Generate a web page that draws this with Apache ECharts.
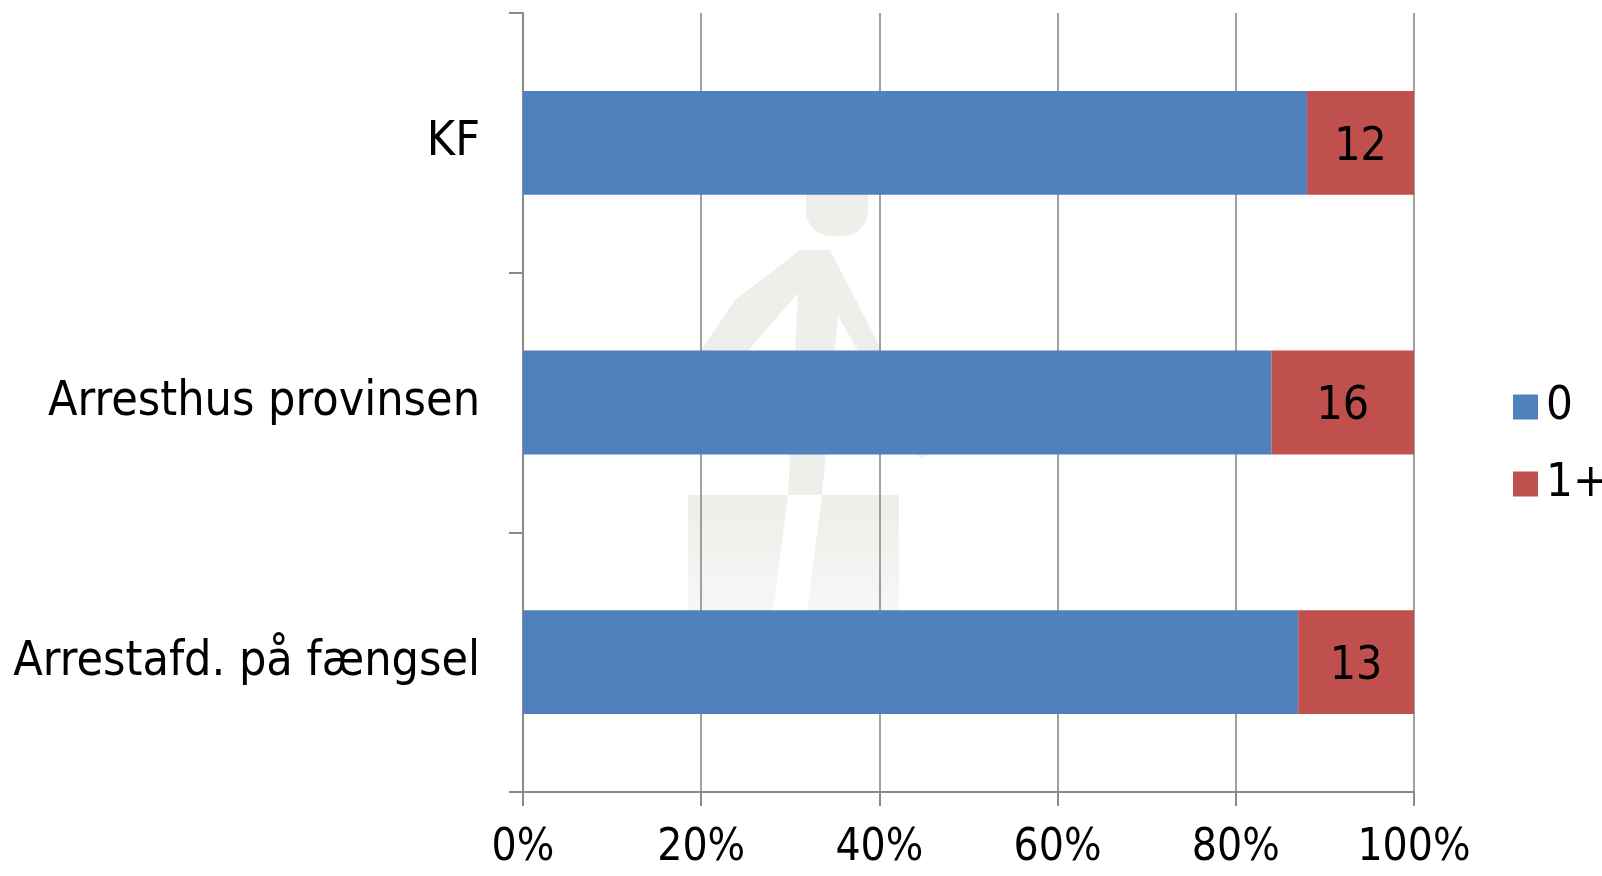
<!DOCTYPE html>
<html>
<head>
<meta charset="utf-8">
<style>html,body{margin:0;padding:0;background:#fff}#c{width:1602px;height:876px}</style>
<script src="https://cdn.jsdelivr.net/npm/echarts@6/dist/echarts.min.js"></script>
</head>
<body>
<div id="c"></div>
<script>
var categories = ['KF', 'Arresthus provinsen', 'Arrestafd. på fængsel'];
var seriesNames = ['0', '1+'];
var valuesZero = [88, 84, 87];
var valuesOnePlus = [12, 16, 13];
var xTickLabels = ['0%', '20%', '40%', '60%', '80%', '100%'];

var mainFont = '"DejaVu Sans Condensed", "Noto Sans", "DejaVu Sans", sans-serif';
var axisFont = '"Liberation Sans Narrow", "DejaVu Sans Condensed", sans-serif';
var gray = '#8a8a8a';

var chart = echarts.init(document.getElementById('c'), null, {renderer: 'canvas'});
chart.setOption({
  animation: false,
  backgroundColor: '#ffffff',
  graphic: [
    {type: 'rect', z: -10, silent: true, shape: {x: 806, y: 186, width: 62, height: 50, r: [8, 8, 25, 25]}, style: {fill: '#eeeeea'}},
    {type: 'polygon', z: -10, silent: true, shape: {points: [[800,250],[830,250],[880,347],[935,452],[920,458],[838,316],[822,495],[788,495],[798,293],[747,352],[700,352],[735,300]]}, style: {fill: '#eeeeea'}},
    {type: 'rect', z: -10, silent: true, shape: {x: 688, y: 495, width: 211, height: 118}, style: {fill: new echarts.graphic.LinearGradient(0, 0, 0, 1, [{offset: 0, color: '#ededea'}, {offset: 1, color: '#f7f7f5'}])}},
    {type: 'polygon', z: -9, silent: true, shape: {points: [[788,495],[822,495],[807,613],[773,613]]}, style: {fill: '#ffffff'}}
  ],
  grid: {left: 523, right: 188, top: 13, bottom: 84, containLabel: false},
  legend: {
    orient: 'vertical',
    left: 1508,
    top: 376,
    itemWidth: 25,
    itemHeight: 25,
    itemGap: 25,
    icon: 'rect',
    data: seriesNames,
    textStyle: {fontFamily: mainFont, fontSize: 47, color: '#000', lineHeight: 46, padding: [6, 0, 0, 3]}
  },
  xAxis: {
    type: 'value',
    min: 0,
    max: 100,
    interval: 20,
    axisLine: {show: true, lineStyle: {color: gray, width: 2}},
    axisTick: {show: true, length: 14, lineStyle: {color: gray, width: 2}},
    splitLine: {show: true, lineStyle: {color: gray, width: 1.6}},
    axisLabel: {
      margin: 35,
      fontFamily: axisFont,
      fontSize: 44,
      color: '#000',
      formatter: function (v) { return xTickLabels[Math.round(v / 20)]; }
    }
  },
  yAxis: {
    type: 'category',
    inverse: true,
    data: categories,
    axisLine: {show: true, lineStyle: {color: gray, width: 2}},
    axisTick: {show: true, length: 14, lineStyle: {color: gray, width: 2}},
    axisLabel: {margin: 43, fontFamily: mainFont, fontSize: 48, color: '#000', padding: [8, 0, 0, 0]}
  },
  series: [
    {
      name: seriesNames[0],
      type: 'bar',
      stack: 'total',
      barCategoryGap: '60%',
      itemStyle: {color: '#4f81bd'},
      data: valuesZero
    },
    {
      name: seriesNames[1],
      type: 'bar',
      stack: 'total',
      barCategoryGap: '60%',
      itemStyle: {color: '#c0504d'},
      label: {show: true, position: 'inside', offset: [0, 5], fontFamily: mainFont, fontSize: 46, color: '#000'},
      data: valuesOnePlus
    }
  ]
});
</script>
</body>
</html>
